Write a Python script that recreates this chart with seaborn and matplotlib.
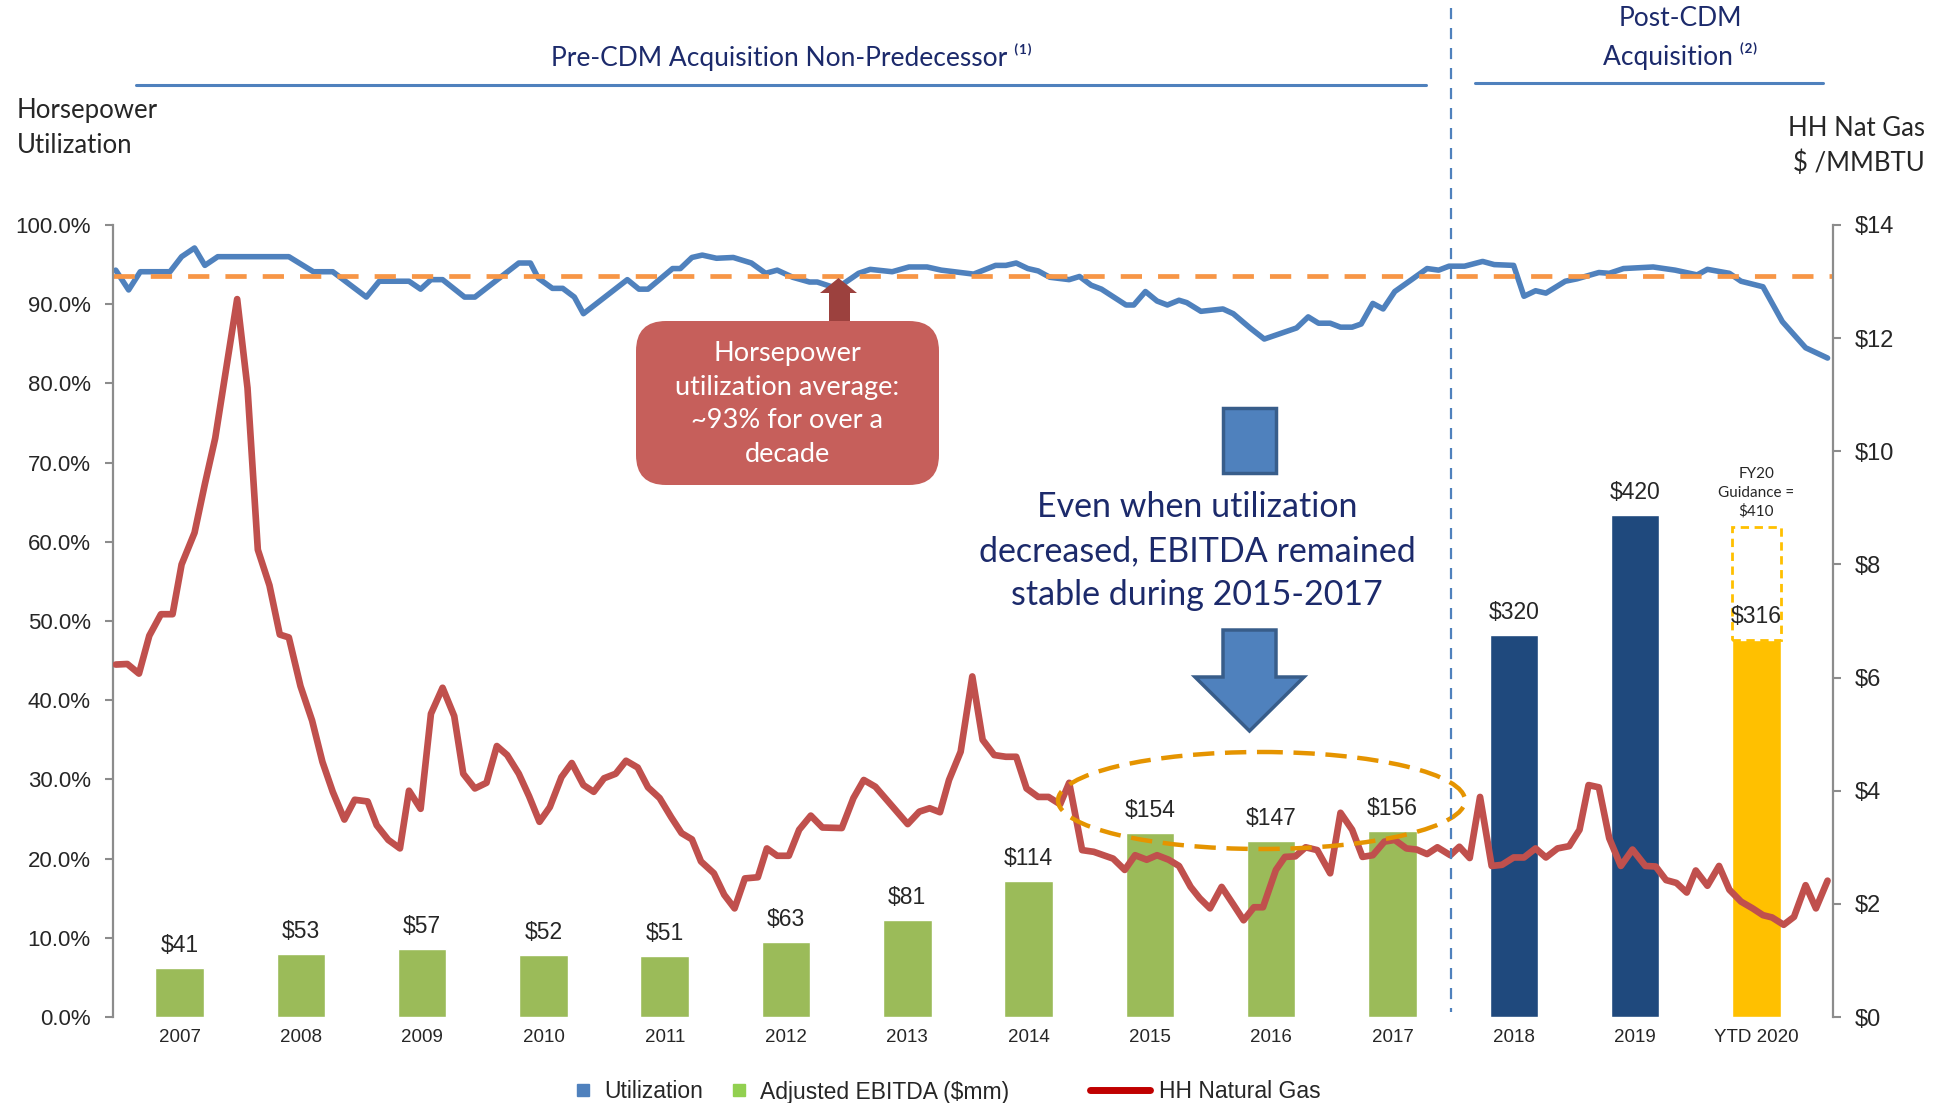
import matplotlib.pyplot as plt
import matplotlib.patches as mpatches
import matplotlib.transforms as mtransforms
from matplotlib.lines import Line2D
import seaborn as sns
import pandas as pd

sns.set_style("white")
plt.rcParams["font.family"] = ["Liberation Sans", "DejaVu Sans"]
CAL = ["Lato", "DejaVu Sans"]

# --- data ---
years = ["2007", "2008", "2009", "2010", "2011", "2012", "2013", "2014",
         "2015", "2016", "2017", "2018", "2019", "YTD 2020"]
ebitda = [41, 53, 57, 52, 51, 63, 81, 114, 154, 147, 156, 320, 420, 316]
bar_colors = ["#9BBB59"] * 11 + ["#1F497D"] * 2 + ["#FFC000"]
fy20_guidance = 410

# horsepower utilization (%)
util_time = [2007.00, 2007.10, 2007.19, 2007.42, 2007.51, 2007.61, 2007.69, 2007.79,
             2008.34, 2008.53, 2008.68, 2008.94, 2009.04, 2009.27, 2009.36, 2009.44,
             2009.53, 2009.70, 2009.78, 2010.12, 2010.21, 2010.27, 2010.38, 2010.46,
             2010.55, 2010.62, 2010.96, 2011.05, 2011.12, 2011.31, 2011.37, 2011.46,
             2011.54, 2011.65, 2011.78, 2011.92, 2012.03, 2012.12, 2012.24, 2012.37,
             2012.43, 2012.58, 2012.75, 2012.84, 2013.01, 2013.14, 2013.28, 2013.39,
             2013.64, 2013.81, 2013.89, 2013.97, 2014.06, 2014.14, 2014.23, 2014.38,
             2014.46, 2014.55, 2014.63, 2014.82, 2014.88, 2014.97, 2015.06, 2015.14,
             2015.23, 2015.29, 2015.40, 2015.57, 2015.65, 2015.78, 2015.89, 2016.14,
             2016.23, 2016.31, 2016.40, 2016.48, 2016.57, 2016.64, 2016.73, 2016.81,
             2016.90, 2017.03, 2017.15, 2017.24, 2017.32, 2017.44, 2017.58, 2017.67,
             2017.82, 2017.90, 2017.99, 2018.07, 2018.22, 2018.31, 2018.48, 2018.56,
             2018.67, 2018.90, 2019.07, 2019.24, 2019.32, 2019.49, 2019.58, 2019.75,
             2019.90, 2020.08, 2020.25]
util_pct = [94.3, 91.8, 94.1, 94.1, 96.0, 97.1, 94.9, 96.0,
            96.0, 94.1, 94.1, 90.9, 92.9, 92.9, 91.9, 93.1,
            93.1, 90.9, 90.9, 95.2, 95.2, 93.3, 92.0, 92.0,
            90.9, 88.8, 93.1, 91.9, 91.9, 94.5, 94.5, 95.9,
            96.2, 95.8, 95.9, 95.2, 93.9, 94.3, 93.4, 92.8,
            92.8, 92.0, 93.9, 94.4, 94.1, 94.7, 94.7, 94.3,
            93.8, 94.9, 94.9, 95.2, 94.5, 94.2, 93.4, 93.1,
            93.5, 92.4, 91.9, 89.9, 89.9, 91.6, 90.4, 89.9,
            90.5, 90.2, 89.1, 89.4, 88.8, 87.0, 85.6, 87.0,
            88.4, 87.6, 87.6, 87.1, 87.1, 87.5, 90.1, 89.4,
            91.6, 93.1, 94.5, 94.3, 94.8, 94.8, 95.4, 95.0,
            94.9, 91.0, 91.7, 91.4, 92.9, 93.2, 94.0, 93.9,
            94.5, 94.7, 94.3, 93.7, 94.4, 93.9, 92.9, 92.2,
            87.8, 84.5, 83.2]
util_avg = 93.6

# Henry Hub natural gas ($/MMBTU)
gas_time = [2007.00, 2007.09, 2007.18, 2007.26, 2007.35, 2007.44, 2007.51, 2007.61,
            2007.69, 2007.77, 2007.84, 2007.94, 2008.02, 2008.10, 2008.19, 2008.27,
            2008.34, 2008.43, 2008.52, 2008.60, 2008.68, 2008.77, 2008.85, 2008.95,
            2009.02, 2009.11, 2009.20, 2009.27, 2009.36, 2009.44, 2009.53, 2009.62,
            2009.69, 2009.78, 2009.87, 2009.95, 2010.03, 2010.12, 2010.20, 2010.28,
            2010.36, 2010.45, 2010.53, 2010.62, 2010.70, 2010.78, 2010.87, 2010.95,
            2011.04, 2011.12, 2011.21, 2011.30, 2011.38, 2011.46, 2011.53, 2011.63,
            2011.71, 2011.79, 2011.87, 2011.97, 2012.04, 2012.12, 2012.21, 2012.29,
            2012.38, 2012.47, 2012.62, 2012.71, 2012.79, 2012.88, 2013.13, 2013.22,
            2013.30, 2013.38, 2013.45, 2013.54, 2013.63, 2013.71, 2013.80, 2013.89,
            2013.97, 2014.05, 2014.14, 2014.22, 2014.31, 2014.38, 2014.48, 2014.57,
            2014.72, 2014.81, 2014.89, 2014.98, 2015.06, 2015.15, 2015.23, 2015.32,
            2015.39, 2015.47, 2015.56, 2015.65, 2015.73, 2015.81, 2015.88, 2015.98,
            2016.05, 2016.13, 2016.21, 2016.30, 2016.40, 2016.48, 2016.57, 2016.65,
            2016.73, 2016.82, 2016.90, 2016.99, 2017.07, 2017.15, 2017.23, 2017.33,
            2017.40, 2017.48, 2017.56, 2017.65, 2017.73, 2017.82, 2017.90, 2017.99,
            2018.07, 2018.16, 2018.25, 2018.33, 2018.40, 2018.48, 2018.56, 2018.65,
            2018.74, 2018.84, 2018.92, 2019.00, 2019.08, 2019.16, 2019.23, 2019.32,
            2019.41, 2019.49, 2019.58, 2019.67, 2019.75, 2019.82, 2019.91, 2019.99,
            2020.08, 2020.16, 2020.25]
gas_price = [6.23, 6.24, 6.07, 6.74, 7.12, 7.12, 8.00, 8.56,
             9.42, 10.23, 11.24, 12.69, 11.12, 8.26, 7.63, 6.76,
             6.71, 5.85, 5.24, 4.51, 3.98, 3.49, 3.84, 3.81,
             3.39, 3.13, 2.98, 4.00, 3.68, 5.36, 5.82, 5.32,
             4.30, 4.04, 4.14, 4.79, 4.63, 4.30, 3.90, 3.45,
             3.71, 4.24, 4.49, 4.10, 3.98, 4.22, 4.30, 4.53,
             4.41, 4.06, 3.87, 3.53, 3.25, 3.14, 2.75, 2.54,
             2.16, 1.92, 2.45, 2.47, 2.98, 2.85, 2.85, 3.31,
             3.56, 3.35, 3.34, 3.87, 4.19, 4.07, 3.41, 3.63,
             3.69, 3.62, 4.19, 4.69, 6.02, 4.90, 4.63, 4.60,
             4.60, 4.04, 3.89, 3.89, 3.76, 4.14, 2.95, 2.92,
             2.80, 2.60, 2.86, 2.78, 2.86, 2.78, 2.67, 2.30,
             2.10, 1.92, 2.30, 1.99, 1.71, 1.94, 1.94, 2.60,
             2.83, 2.84, 3.00, 2.95, 2.54, 3.61, 3.31, 2.83,
             2.86, 3.10, 3.13, 2.98, 2.96, 2.88, 3.00, 2.86,
             3.01, 2.81, 3.89, 2.67, 2.69, 2.82, 2.82, 2.98,
             2.82, 2.98, 3.02, 3.31, 4.10, 4.06, 3.16, 2.67,
             2.96, 2.67, 2.66, 2.42, 2.37, 2.20, 2.59, 2.32,
             2.67, 2.25, 2.04, 1.92, 1.80, 1.76, 1.63, 1.77,
             2.33, 1.92, 2.41]

pct_ticks = list(range(0, 101, 10))
gas_ticks = list(range(0, 15, 2))

# --- figure ---
W, H = 1944, 1103
fig = plt.figure(figsize=(W / 100, H / 100), dpi=100)
# pixel coords of the slide, origin top-left
pix = mtransforms.Affine2D().scale(1 / 100, -1 / 100).translate(0, H / 100) + fig.dpi_scale_trans

rect = [113 / W, 1 - 1017 / H, 1720 / W, 792 / H]

# EBITDA bars
ax_bar = fig.add_axes(rect)
df = pd.DataFrame({"year": years, "ebitda": ebitda})
sns.barplot(data=df, x="year", y="ebitda", hue="year", palette=bar_colors,
            saturation=1, width=0.4, legend=False, ax=ax_bar)
ax_bar.set_xlim(-0.549, 13.632)
ax_bar.set_ylim(0, 663)
ax_bar.set_yticks([])
ax_bar.set_xlabel("")
ax_bar.set_ylabel("")
ax_bar.tick_params(axis="x", length=0, labelsize=13.5, pad=9)
sns.despine(ax=ax_bar, left=True, bottom=True)
for i, v in enumerate(ebitda):
    ax_bar.annotate(f"${v}", (i, v), xytext=(0, 8), textcoords="offset points",
                    ha="center", va="bottom", fontsize=16.5)

# FY20 guidance outline
n = len(years) - 1
ax_bar.add_patch(mpatches.Rectangle((n - 0.2, ebitda[-1]), 0.4, fy20_guidance - ebitda[-1],
                                    fill=False, ec="#FFC000", lw=2, ls=(0, (3, 2))))
ax_bar.annotate(f"FY20\nGuidance =\n${fy20_guidance}", (n, fy20_guidance), xytext=(0, 6),
                textcoords="offset points", ha="center", va="bottom",
                fontsize=11, family=CAL, linespacing=1.4)

# utilization line (left axis)
ax_util = fig.add_axes(rect, facecolor="none")
sns.lineplot(x=util_time, y=util_pct, color="#4F81BD", lw=4, ax=ax_util)
ax_util.axhline(util_avg, color="#F79646", lw=3.4, dashes=(4.5, 3.4))
ax_util.set_xlim(2006.979, 2020.292)
ax_util.set_ylim(0, 100)
ax_util.set_yticks(pct_ticks, [f"{t:.1f}%" for t in pct_ticks])
ax_util.set_xticks([])

# nat gas line (right axis)
ax_gas = ax_util.twinx()
sns.lineplot(x=gas_time, y=gas_price, color="#C0504D", lw=4.8, ax=ax_gas)
ax_gas.set_ylim(0, 14)
ax_gas.set_yticks(gas_ticks, [f"${t}" for t in gas_ticks])

for ax, side in [(ax_util, "left"), (ax_gas, "right")]:
    ax.set_xlabel("")
    ax.set_ylabel("")
    for s in ax.spines.values():
        s.set_visible(False)
    ax.spines[side].set_visible(True)
    ax.spines[side].set_color("#8C8C8C")
    ax.spines[side].set_linewidth(1.6)
    ax.tick_params(axis="y", direction="out", length=6, width=1.5, color="#8C8C8C",
                   labelsize=16 if side == "left" else 17, pad=10)
    ax.grid(False)

# --- headers ---
fig.text(791, 57, "Pre-CDM Acquisition Non-Predecessor ⁽¹⁾", transform=pix, ha="center",
         va="center", fontsize=19, family=CAL, color="#1C2A6B")
fig.text(1680, 38, "Post-CDM\nAcquisition ⁽²⁾", transform=pix, ha="center", va="center",
         fontsize=19, family=CAL, color="#1C2A6B", linespacing=1.5)
fig.add_artist(Line2D([136, 1426], [85, 85], transform=pix, color="#4F81BD", lw=2.2))
fig.add_artist(Line2D([1475, 1823], [83, 83], transform=pix, color="#4F81BD", lw=2.2))
fig.add_artist(Line2D([1451, 1451], [8, 1012], transform=pix, color="#4F81BD", lw=1.6,
                      dashes=(5, 4)))
fig.text(17, 128, "Horsepower\nUtilization", transform=pix, ha="left", va="center",
         fontsize=18.5, family=CAL, linespacing=1.5)
fig.text(1925, 146, "HH Nat Gas\n$ /MMBTU", transform=pix, ha="right", va="center",
         fontsize=18.5, family=CAL, linespacing=1.5, multialignment="right")

# --- callout ---
fig.add_artist(mpatches.FancyBboxPatch((636, 321), 303, 164, transform=pix,
                                       boxstyle="round,pad=0,rounding_size=30",
                                       fc="#C65F5B", ec="none"))
fig.add_artist(mpatches.Polygon([(829, 321), (829, 293), (820, 293), (838.5, 278),
                                 (857, 293), (850, 293), (850, 321)],
                                transform=pix, fc="#9C413E", ec="none"))
fig.text(787, 404, "Horsepower\nutilization average:\n~93% for over a\ndecade", transform=pix,
         ha="center", va="center", fontsize=19.5, family=CAL, color="white", linespacing=1.45)

# --- EBITDA stability note ---
fig.add_artist(mpatches.Rectangle((1223, 408), 53, 65, transform=pix, fc="#4F81BD",
                                  ec="#385D8A", lw=2.5))
fig.add_artist(mpatches.Polygon([(1223, 630), (1276, 630), (1276, 677), (1304, 677),
                                 (1249.5, 731), (1195, 677), (1223, 677)],
                                transform=pix, fc="#4F81BD", ec="#385D8A", lw=2.5))
fig.text(1197, 551, "Even when utilization\ndecreased, EBITDA remained\nstable during 2015-2017",
         transform=pix, ha="center", va="center", fontsize=24.5, family=CAL,
         color="#1C2A6B", linespacing=1.45)
fig.add_artist(mpatches.Ellipse((1261.5, 800.5), 407, 97, transform=pix, fill=False,
                                ec="#E59400", lw=3.2, ls=(0, (4.8, 2.4))))

# --- legend ---
h_util = Line2D([], [], ls="none", marker="s", ms=9, color="#4F81BD")
h_ebit = Line2D([], [], ls="none", marker="s", ms=9, color="#92D050")
h_gas = Line2D([], [], color="#C00000", lw=5)
leg1 = fig.legend([h_util, h_ebit], ["Utilization", "Adjusted EBITDA ($mm)"],
                  loc="center left", bbox_to_anchor=(574 / W, 1 - 1092 / H), ncol=2,
                  frameon=False, fontsize=16.5, handlelength=0.8, handletextpad=0.5,
                  columnspacing=1.2, borderpad=0, borderaxespad=0)
leg2 = fig.legend([h_gas], ["HH Natural Gas"], loc="center left",
                  bbox_to_anchor=(1090 / W, 1 - 1092 / H), frameon=False, fontsize=16.5,
                  handlelength=2.6, handletextpad=0.4, borderpad=0, borderaxespad=0)

fig.savefig("out.png", dpi=100)
